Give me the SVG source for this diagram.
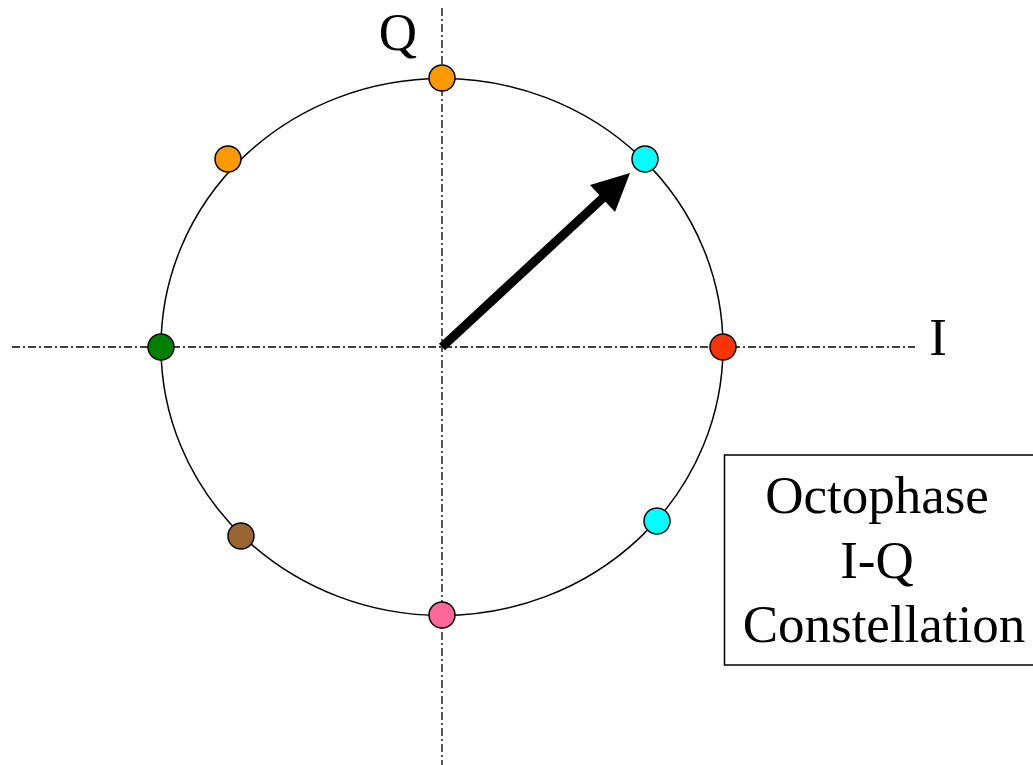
<svg xmlns="http://www.w3.org/2000/svg" width="1033" height="765" viewBox="0 0 1033 765">
<style>
.axis{stroke:#000;stroke-width:1.3;stroke-dasharray:8 3 2 3;fill:none}
.dot{stroke:#000;stroke-width:1.5}
.lbl{font-family:"Liberation Serif","Times New Roman",serif;font-size:53px;fill:#000}
</style>
<rect width="1033" height="765" fill="#fff"/>
<g id="connectors">
<line class="axis" x1="12" y1="347" x2="915" y2="347"/>
<line class="axis" x1="442" y1="8" x2="442" y2="765"/>
<ellipse cx="442" cy="347" rx="281" ry="268.5" fill="none" stroke="#000" stroke-width="1.5"/>
<line x1="442" y1="347" x2="605" y2="196" stroke="#000" stroke-width="9"/>
<polygon points="630,173 590,185 615,212" fill="#000"/>
</g>
<g id="p0"><circle class="dot" cx="723" cy="347" r="13" fill="#ff3300"/></g>
<g id="p1"><circle class="dot" cx="645" cy="159" r="13" fill="#00ffff"/></g>
<g id="p2"><circle class="dot" cx="442" cy="78" r="13" fill="#ff9900"/></g>
<g id="p3"><circle class="dot" cx="228" cy="159" r="13" fill="#ff9900"/></g>
<g id="p4"><circle class="dot" cx="161" cy="347" r="13" fill="#008000"/></g>
<g id="p5"><circle class="dot" cx="241" cy="536" r="13" fill="#996633"/></g>
<g id="p6"><circle class="dot" cx="442" cy="615" r="13" fill="#ff6699"/></g>
<g id="p7"><circle class="dot" cx="657" cy="521" r="13" fill="#00ffff"/></g>
<g id="labelQ"><text class="lbl" x="398" y="50" text-anchor="middle">Q</text></g>
<g id="labelI"><text class="lbl" x="938" y="355" text-anchor="middle">I</text></g>
<g id="title">
<rect x="724.5" y="455" width="320" height="210" fill="#fff" stroke="#000" stroke-width="1.5"/>
<text class="lbl" x="877" y="513" text-anchor="middle">Octophase</text>
<text class="lbl" x="877" y="578" text-anchor="middle">I-Q</text>
<text class="lbl" x="884" y="642" text-anchor="middle">Constellation</text>
</g>
</svg>
